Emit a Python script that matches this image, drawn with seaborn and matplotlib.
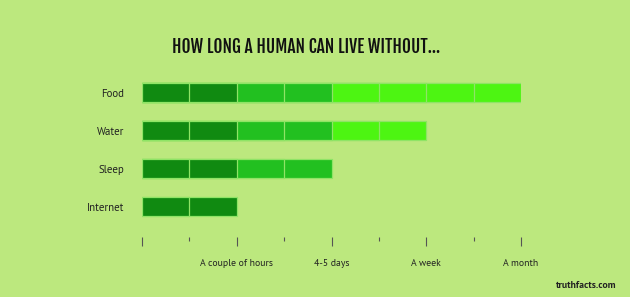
import matplotlib
matplotlib.use("Agg")
import matplotlib.pyplot as plt
import seaborn as sns
import pandas as pd
from matplotlib import font_manager

categories = ["Food", "Water", "Sleep", "Internet"]
segments = [8, 6, 4, 2]          # number of time-units each item lasts
segment_colors = ["#108a11", "#108a11", "#22c020", "#22c020",
                  "#4df512", "#4df512", "#4df512", "#4df512"]
tick_positions = [0, 2, 4, 6, 8]
tick_labels = ["", "A couple of hours", "4-5 days", "A week", "A month"]
minor_positions = [1, 3, 5, 7]
title = "HOW LONG A HUMAN CAN LIVE WITHOUT..."
credit = "truthfacts.com"

bg = "#bce87e"
names = {f.name for f in font_manager.fontManager.ttflist}
title_family = next((f for f in ["Fjalla One", "Oswald", "League Gothic", "Roboto Condensed"]
                     if f in names), "DejaVu Sans")
body_family = "PT Sans" if "PT Sans" in names else "Open Sans"

sns.set_theme(style="white")
plt.rcParams["font.family"] = [body_family, "DejaVu Sans"]

fig = plt.figure(figsize=(6.3, 2.97), dpi=100)
fig.patch.set_facecolor(bg)
ax = fig.add_axes([142 / 630, 1 - 237 / 297, 379 / 630, 163 / 297])
ax.set_facecolor(bg)

# stacked segments: draw longest first, shorter overlapping ones after
for k in range(max(segments), 0, -1):
    rows = [c for c, s in zip(categories, segments) if s >= k]
    df = pd.DataFrame({"cat": rows, "w": [k] * len(rows)})
    sns.barplot(data=df, x="w", y="cat", order=categories, orient="h",
                color=segment_colors[k - 1], saturation=1, width=0.5,
                edgecolor="#8fe466", linewidth=0.9, ax=ax)

ax.set_xlim(0, 8)
ax.set_ylim(3.79, -0.5)
for s in ax.spines.values():
    s.set_visible(False)
ax.set_xlabel("")
ax.set_ylabel("")
ax.set_xticks(tick_positions)
ax.set_xticklabels(tick_labels, fontsize=7, color="#222222")
ax.set_xticks(minor_positions, minor=True)
ax.tick_params(axis="x", which="major", direction="out", length=6.5, width=0.8,
               color="#555555", pad=9, bottom=True)
ax.tick_params(axis="x", which="minor", direction="out", length=3, width=0.8,
               color="#555555", bottom=True)
ax.tick_params(axis="y", length=0, pad=13)
for lbl in ax.get_yticklabels():
    lbl.set_fontsize(7.8)
    lbl.set_color("#222222")

fig.text(306 / 630, 1 - 47 / 297, title, ha="center", va="center",
         fontsize=12.5, fontweight="bold",
         color="#111111", family=[title_family, "DejaVu Sans"])
fig.text(616 / 630, 1 - 286 / 297, credit, ha="right", va="center",
         fontsize=7, fontweight="bold", color="#222222")

fig.savefig("out.png", dpi=100, facecolor=bg)
